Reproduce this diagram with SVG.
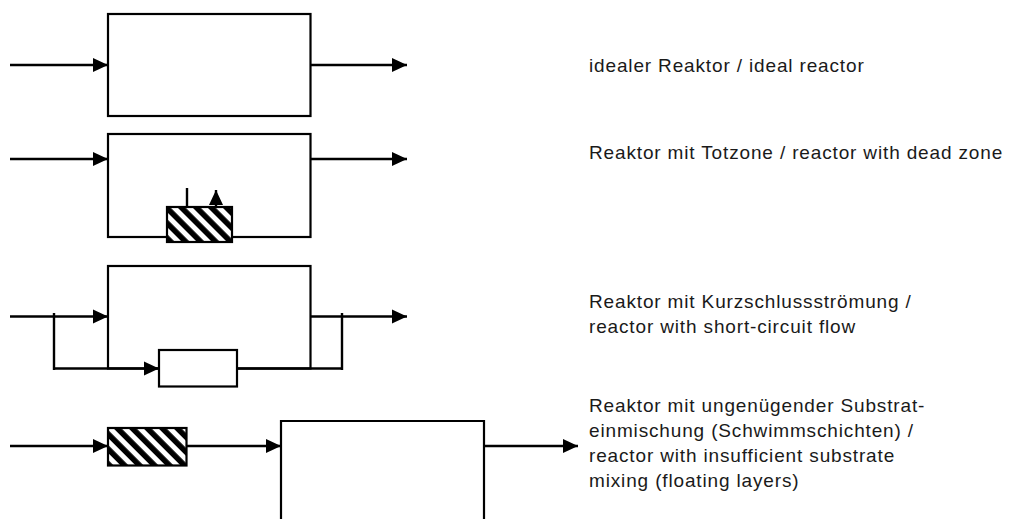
<svg xmlns="http://www.w3.org/2000/svg" width="1011" height="519" viewBox="0 0 1011 519">
<style>
.box{fill:#fff;stroke:#000;stroke-width:2.2}
.ln{fill:none;stroke:#000;stroke-width:2.4}
.hb{fill:url(#hatch);stroke:#000;stroke-width:2.2}
.lbl{font-family:"Liberation Sans",Arial,sans-serif;font-size:19px;letter-spacing:0.85px;fill:#1a1a1a}
</style>
<defs>
<marker id="ah" markerWidth="15" markerHeight="15" refX="15" refY="7.5" orient="auto" markerUnits="userSpaceOnUse" viewBox="0 0 15 15">
<path d="M0,0.5 L15,7.5 L0,14.5 Z" fill="#000"/>
</marker>
<pattern id="hatch" patternUnits="userSpaceOnUse" width="10.6" height="10.6" patternTransform="rotate(-45)">
<rect width="10.6" height="10.6" fill="#fff"/>
<rect width="5.6" height="10.6" fill="#000"/>
</pattern>
</defs>
<rect width="1011" height="519" fill="#fff"/>

<g id="reactor1">
<rect class="box" x="108" y="14" width="202.5" height="102"/>
</g>
<g id="reactor2">
<rect class="box" x="108" y="134" width="202.5" height="103"/>
</g>
<g id="deadzone">
<rect class="hb" x="167" y="207" width="65" height="35"/>
</g>
<g id="reactor3">
<rect class="box" x="108" y="266" width="202.5" height="102.5"/>
</g>
<g id="bypass">
<rect class="box" x="159" y="350" width="78" height="36.5"/>
</g>
<g id="floatlayer">
<rect class="hb" x="108" y="428" width="78.5" height="37.5"/>
</g>
<g id="reactor4">
<path class="box" d="M281,525 L281,421 L484,421 L484,525"/>
</g>

<g id="connectors">
<line class="ln" x1="10" y1="65" x2="108" y2="65" marker-end="url(#ah)"/>
<line class="ln" x1="310.5" y1="65" x2="407" y2="65" marker-end="url(#ah)"/>

<line class="ln" x1="10" y1="159" x2="108" y2="159" marker-end="url(#ah)"/>
<line class="ln" x1="310.5" y1="159" x2="407" y2="159" marker-end="url(#ah)"/>
<line class="ln" x1="187" y1="188" x2="187" y2="207"/>
<line class="ln" x1="216" y1="206" x2="216" y2="190" marker-end="url(#ah)"/>

<line class="ln" x1="10" y1="316.5" x2="108" y2="316.5" marker-end="url(#ah)"/>
<line class="ln" x1="310.5" y1="316.5" x2="407" y2="316.5" marker-end="url(#ah)"/>
<line class="ln" x1="54" y1="313" x2="54" y2="370"/>
<line class="ln" x1="53" y1="368.5" x2="159" y2="368.5" marker-end="url(#ah)"/>
<line class="ln" x1="237" y1="368.5" x2="343" y2="368.5"/>
<line class="ln" x1="342" y1="313" x2="342" y2="370"/>

<line class="ln" x1="10" y1="446" x2="108" y2="446" marker-end="url(#ah)"/>
<line class="ln" x1="186.5" y1="446" x2="281" y2="446" marker-end="url(#ah)"/>
<line class="ln" x1="484" y1="446" x2="578" y2="446" marker-end="url(#ah)"/>
</g>

<g id="labels">
<text class="lbl" x="589" y="72">idealer Reaktor / ideal reactor</text>
<text class="lbl" x="589" y="159">Reaktor mit Totzone / reactor with dead zone</text>
<text class="lbl" x="589" y="308">Reaktor mit Kurzschlussströmung /</text>
<text class="lbl" x="589" y="333">reactor with short-circuit flow</text>
<text class="lbl" x="589" y="412">Reaktor mit ungenügender Substrat-</text>
<text class="lbl" x="589" y="437">einmischung (Schwimmschichten) /</text>
<text class="lbl" x="589" y="462">reactor with insufficient substrate</text>
<text class="lbl" x="589" y="487">mixing (floating layers)</text>
</g>
</svg>
